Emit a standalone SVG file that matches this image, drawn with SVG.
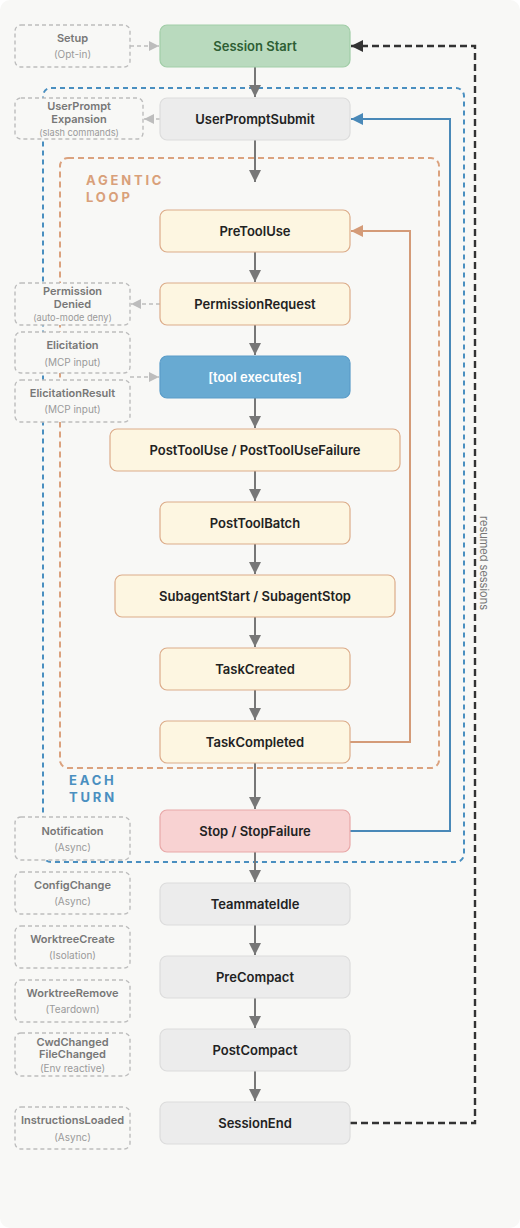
<svg xmlns="http://www.w3.org/2000/svg" width="520" height="1228" viewBox="0 0 520 1228">
<defs>
<style>
.bg{fill:#f8f8f6}
.n rect{stroke-width:1.2}
.n text{font-family:Inter,"Liberation Sans",sans-serif;font-size:13px;font-weight:600;fill:#222;text-anchor:middle;dominant-baseline:central}
.gray rect{fill:#ececec;stroke:#dcdcdc}
.yel rect{fill:#fdf6e1;stroke:#dcac8a}
.s rect{fill:#f8f8f6;stroke:#bdbdbd;stroke-width:1.4;stroke-dasharray:4 3}
.s text{font-family:Inter,"Liberation Sans",sans-serif;text-anchor:middle;dominant-baseline:central}
.s .t{font-size:11px;font-weight:600;fill:#777}
.s .u{font-size:10px;fill:#9a9a9a}
.flow line{stroke:#777;stroke-width:2;marker-end:url(#ag)}
.side line{stroke:#bdbdbd;stroke-width:1.6;stroke-dasharray:4 3;marker-end:url(#al)}
.lbl{font-family:Inter,"Liberation Sans",sans-serif;font-size:13px;font-weight:700;letter-spacing:2.8px}
</style>
<marker id="ag" markerUnits="userSpaceOnUse" markerWidth="14" markerHeight="14" refX="12" refY="6" orient="auto"><path d="M0,0 L12,6 L0,12 Z" fill="#777"/></marker>
<marker id="al" markerUnits="userSpaceOnUse" markerWidth="12" markerHeight="12" refX="10" refY="5" orient="auto"><path d="M0,0 L10,5 L0,10 Z" fill="#bdbdbd"/></marker>
<marker id="ao" markerUnits="userSpaceOnUse" markerWidth="14" markerHeight="14" refX="12" refY="6" orient="auto"><path d="M0,0 L12,6 L0,12 Z" fill="#d49b78"/></marker>
<marker id="ab" markerUnits="userSpaceOnUse" markerWidth="14" markerHeight="14" refX="12" refY="6" orient="auto"><path d="M0,0 L12,6 L0,12 Z" fill="#4a89b8"/></marker>
<marker id="ak" markerUnits="userSpaceOnUse" markerWidth="14" markerHeight="14" refX="12" refY="6" orient="auto"><path d="M0,0 L12,6 L0,12 Z" fill="#333"/></marker>
</defs>
<rect width="520" height="1228" fill="#ffffff"/>
<rect class="bg" x="0" y="0" width="520" height="1228" rx="10"/>

<g id="regions">
<rect x="43" y="88" width="421" height="774" rx="8" fill="none" stroke="#4a8fc0" stroke-width="2" stroke-dasharray="5 4"/>
<rect x="60" y="158" width="379" height="610" rx="8" fill="none" stroke="#dba27e" stroke-width="2" stroke-dasharray="6 4"/>
<text class="lbl" x="86" y="185" fill="#d9a07a">AGENTIC</text>
<text class="lbl" x="86" y="202" fill="#d9a07a">LOOP</text>
<text class="lbl" x="69" y="785" fill="#4a8fc0">EACH</text>
<text class="lbl" x="69" y="802" fill="#4a8fc0">TURN</text>
</g>

<g id="connectors">
<g class="flow">
<line x1="255" y1="67" x2="255" y2="97"/>
<line x1="255" y1="140" x2="255" y2="182"/>
<line x1="255" y1="252" x2="255" y2="282"/>
<line x1="255" y1="325" x2="255" y2="355"/>
<line x1="255" y1="398" x2="255" y2="428"/>
<line x1="255" y1="471" x2="255" y2="501"/>
<line x1="255" y1="544" x2="255" y2="574"/>
<line x1="255" y1="617" x2="255" y2="647"/>
<line x1="255" y1="690" x2="255" y2="720"/>
<line x1="255" y1="763" x2="255" y2="809"/>
<line x1="255" y1="852" x2="255" y2="882"/>
<line x1="255" y1="925" x2="255" y2="955"/>
<line x1="255" y1="998" x2="255" y2="1028"/>
<line x1="255" y1="1071" x2="255" y2="1101"/>
</g>
<g class="side">
<line x1="130" y1="46" x2="159" y2="46"/>
<line x1="160" y1="119" x2="144" y2="119"/>
<line x1="160" y1="304" x2="131" y2="304"/>
<line x1="130" y1="377" x2="159" y2="377"/>
</g>
<polyline points="350,742 410,742 410,231 351,231" fill="none" stroke="#d49b78" stroke-width="2" marker-end="url(#ao)"/>
<polyline points="350,831 450,831 450,119 351,119" fill="none" stroke="#4a89b8" stroke-width="2" marker-end="url(#ab)"/>
<polyline points="350,1123 475,1123 475,46 351,46" fill="none" stroke="#333" stroke-width="2.4" stroke-dasharray="7 4" marker-end="url(#ak)"/>
<text x="484" y="563" transform="rotate(90 484 563)" font-family="Inter,'Liberation Sans',sans-serif" font-size="11" fill="#777" text-anchor="middle" dominant-baseline="central">resumed sessions</text>
</g>

<g id="side-setup" class="s"><rect x="15" y="25" width="115" height="42" rx="6"/><text class="t" x="72.5" y="38">Setup</text><text class="u" x="72.5" y="54">(Opt-in)</text></g>
<g id="side-upe" class="s"><rect x="15" y="98" width="128" height="41" rx="6"/><text class="t" x="79" y="106">UserPrompt</text><text class="t" x="79" y="119">Expansion</text><text class="u" x="79" y="132" style="font-size:9.2px">(slash commands)</text></g>
<g id="side-permdenied" class="s"><rect x="15" y="283" width="115" height="42" rx="6"/><text class="t" x="72.5" y="291">Permission</text><text class="t" x="72.5" y="304">Denied</text><text class="u" x="72.5" y="317" style="font-size:9.2px">(auto-mode deny)</text></g>
<g id="side-elicitation" class="s"><rect x="15" y="332" width="115" height="41" rx="6"/><text class="t" x="72.5" y="345">Elicitation</text><text class="u" x="72.5" y="362">(MCP input)</text></g>
<g id="side-elicitationresult" class="s"><rect x="15" y="380" width="115" height="42" rx="6"/><text class="t" x="72.5" y="393">ElicitationResult</text><text class="u" x="72.5" y="409">(MCP input)</text></g>
<g id="side-notification" class="s"><rect x="15" y="817" width="115" height="43" rx="6"/><text class="t" x="72.5" y="831">Notification</text><text class="u" x="72.5" y="847">(Async)</text></g>
<g id="side-configchange" class="s"><rect x="15" y="872" width="115" height="42" rx="6"/><text class="t" x="72.5" y="885">ConfigChange</text><text class="u" x="72.5" y="901">(Async)</text></g>
<g id="side-worktreecreate" class="s"><rect x="15" y="926" width="115" height="42" rx="6"/><text class="t" x="72.5" y="939">WorktreeCreate</text><text class="u" x="72.5" y="955">(Isolation)</text></g>
<g id="side-worktreeremove" class="s"><rect x="15" y="980" width="115" height="42" rx="6"/><text class="t" x="72.5" y="993">WorktreeRemove</text><text class="u" x="72.5" y="1009">(Teardown)</text></g>
<g id="side-cwd" class="s"><rect x="15" y="1033" width="115" height="43" rx="6"/><text class="t" x="72.5" y="1042">CwdChanged</text><text class="t" x="72.5" y="1054">FileChanged</text><text class="u" x="72.5" y="1068">(Env reactive)</text></g>
<g id="side-instructions" class="s"><rect x="15" y="1107" width="115" height="42" rx="6"/><text class="t" x="72.5" y="1120">InstructionsLoaded</text><text class="u" x="72.5" y="1137">(Async)</text></g>

<g id="node-sessionstart" class="n"><rect x="160" y="25" width="190" height="42" rx="7" fill="#b9dabe" stroke="#a1cda7"/><text x="255" y="46" style="fill:#2e5e34">Session Start</text></g>
<g id="node-userpromptsubmit" class="n gray"><rect x="160" y="98" width="190" height="42" rx="7"/><text x="255" y="119">UserPromptSubmit</text></g>
<g id="node-pretooluse" class="n yel"><rect x="160" y="210" width="190" height="42" rx="7"/><text x="255" y="231">PreToolUse</text></g>
<g id="node-permissionrequest" class="n yel"><rect x="160" y="283" width="190" height="42" rx="7"/><text x="255" y="304">PermissionRequest</text></g>
<g id="node-toolexecutes" class="n"><rect x="160" y="356" width="190" height="42" rx="7" fill="#68aad2" stroke="#5a9cc8"/><text x="255" y="377" style="fill:#ffffff">[tool executes]</text></g>
<g id="node-posttooluse" class="n yel"><rect x="110" y="429" width="290" height="42" rx="7"/><text x="255" y="450">PostToolUse / PostToolUseFailure</text></g>
<g id="node-posttoolbatch" class="n yel"><rect x="160" y="502" width="190" height="42" rx="7"/><text x="255" y="523">PostToolBatch</text></g>
<g id="node-subagent" class="n yel"><rect x="115" y="575" width="280" height="42" rx="7"/><text x="255" y="596">SubagentStart / SubagentStop</text></g>
<g id="node-taskcreated" class="n yel"><rect x="160" y="648" width="190" height="42" rx="7"/><text x="255" y="669">TaskCreated</text></g>
<g id="node-taskcompleted" class="n yel"><rect x="160" y="721" width="190" height="42" rx="7"/><text x="255" y="742">TaskCompleted</text></g>
<g id="node-stop" class="n"><rect x="160" y="810" width="190" height="42" rx="7" fill="#f8d2d2" stroke="#e8a8a8"/><text x="255" y="831">Stop / StopFailure</text></g>
<g id="node-teammateidle" class="n gray"><rect x="160" y="883" width="190" height="42" rx="7"/><text x="255" y="904">TeammateIdle</text></g>
<g id="node-precompact" class="n gray"><rect x="160" y="956" width="190" height="42" rx="7"/><text x="255" y="977">PreCompact</text></g>
<g id="node-postcompact" class="n gray"><rect x="160" y="1029" width="190" height="42" rx="7"/><text x="255" y="1050">PostCompact</text></g>
<g id="node-sessionend" class="n gray"><rect x="160" y="1102" width="190" height="42" rx="7"/><text x="255" y="1123">SessionEnd</text></g>
</svg>
